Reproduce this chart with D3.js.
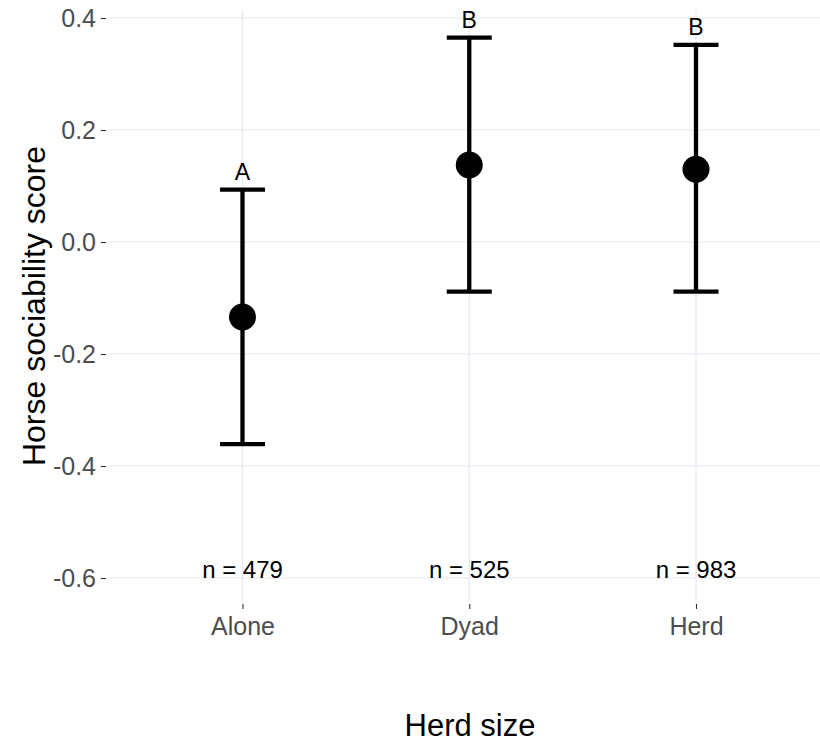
<!DOCTYPE html>
<html>
<head>
<meta charset="utf-8">
<script src="https://cdn.jsdelivr.net/npm/d3@7"></script>
<style>
  html, body { margin: 0; padding: 0; background: #fff; }
  svg { display: block; font-family: Arial, "Liberation Sans", sans-serif; }
</style>
</head>
<body>
<svg id="chart" width="820" height="745"></svg>
<script>
const categories = ["Alone", "Dyad", "Herd"];
const means = [-0.134, 0.1375, 0.130];
const lower = [-0.361, -0.0887, -0.0887];
const upper = [0.0934, 0.365, 0.352];
const groupLetters = ["A", "B", "B"];
const sampleSizes = ["n = 479", "n = 525", "n = 983"];
const yTicks = [-0.6, -0.4, -0.2, 0.0, 0.2, 0.4];

const svg = d3.select("#chart");
const panel = { left: 108, right: 832, top: 10, bottom: 602 };

const y = d3.scaleLinear().domain([-0.6, 0.4]).range([578, 18]);
const x = d3.scalePoint().domain(categories).range([242.5, 696]);

// grid
const grid = svg.append("g");
grid.selectAll("line.h").data(yTicks).enter().append("line")
  .attr("x1", panel.left).attr("x2", panel.right)
  .attr("y1", d => y(d)).attr("y2", d => y(d))
  .attr("stroke", "#e6e6f6").attr("stroke-width", 1.2);
grid.selectAll("line.v").data(categories).enter().append("line")
  .attr("x1", d => x(d)).attr("x2", d => x(d))
  .attr("y1", panel.top).attr("y2", panel.bottom)
  .attr("stroke", "#e6e6f6").attr("stroke-width", 1.2);

// y axis
const yAxis = d3.axisLeft(y).tickValues(yTicks).tickSize(5).tickPadding(5)
  .tickFormat(d3.format(".1f"));
const gy = svg.append("g").attr("transform", `translate(${panel.left - 2},0)`).call(yAxis);
gy.select(".domain").remove();
gy.selectAll(".tick line").attr("stroke", "#333").attr("stroke-width", 1.1);
gy.selectAll(".tick text").attr("fill", "#4d4d4d").style("font-size", "25px")
  .attr("dy", "0.34em").text(d => d3.format(".1f")(d).replace("−", "-"));

// x axis
const xAxis = d3.axisBottom(x).tickSize(5).tickPadding(8);
const gx = svg.append("g").attr("transform", `translate(0,${panel.bottom + 2})`).call(xAxis);
gx.select(".domain").remove();
gx.selectAll(".tick line").attr("stroke", "#333").attr("stroke-width", 1.1);
gx.selectAll(".tick text").attr("fill", "#4d4d4d").style("font-size", "25px");

// error bars
const data = categories.map((c, i) => ({ c, m: means[i], lo: lower[i], hi: upper[i], letter: groupLetters[i], n: sampleSizes[i] }));
const capHalf = 22.5;
const eb = svg.append("g");
eb.selectAll("line.stem").data(data).enter().append("line")
  .attr("x1", d => x(d.c)).attr("x2", d => x(d.c))
  .attr("y1", d => y(d.lo)).attr("y2", d => y(d.hi))
  .attr("stroke", "#000").attr("stroke-width", 4.3);
eb.selectAll("line.capHi").data(data).enter().append("line")
  .attr("x1", d => x(d.c) - capHalf).attr("x2", d => x(d.c) + capHalf)
  .attr("y1", d => y(d.hi)).attr("y2", d => y(d.hi))
  .attr("stroke", "#000").attr("stroke-width", 4.3);
eb.selectAll("line.capLo").data(data).enter().append("line")
  .attr("x1", d => x(d.c) - capHalf).attr("x2", d => x(d.c) + capHalf)
  .attr("y1", d => y(d.lo)).attr("y2", d => y(d.lo))
  .attr("stroke", "#000").attr("stroke-width", 4.3);
eb.selectAll("circle").data(data).enter().append("circle")
  .attr("cx", d => x(d.c)).attr("cy", d => y(d.m)).attr("r", 13.5)
  .attr("fill", "#000");

// letters
svg.append("g").selectAll("text").data(data).enter().append("text")
  .attr("x", d => x(d.c)).attr("y", d => y(d.hi) - 10)
  .attr("text-anchor", "middle").style("font-size", "23px").attr("fill", "#000")
  .text(d => d.letter);

// sample sizes
svg.append("g").selectAll("text").data(data).enter().append("text")
  .attr("x", d => x(d.c)).attr("y", y(-0.6))
  .attr("text-anchor", "middle").style("font-size", "24px").attr("fill", "#000")
  .text(d => d.n);

// axis titles
svg.append("text").attr("x", 470).attr("y", 736)
  .attr("text-anchor", "middle").style("font-size", "31px").attr("fill", "#000")
  .text("Herd size");
svg.append("text").attr("transform", "translate(45,306) rotate(-90)")
  .attr("text-anchor", "middle").style("font-size", "32px").attr("fill", "#000")
  .text("Horse sociability score");
</script>
</body>
</html>
